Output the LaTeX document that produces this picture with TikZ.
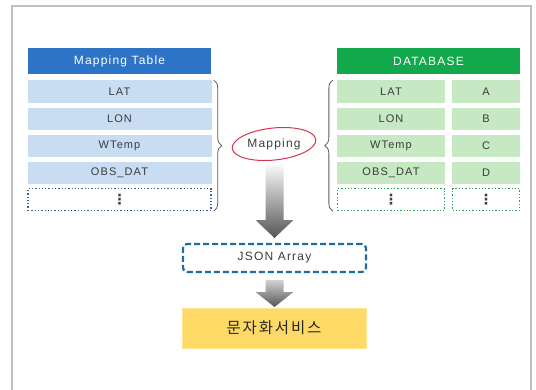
\documentclass[tikz,border=0pt]{standalone}
\usepackage{fontspec}
\setmainfont{Liberation Sans}[LetterSpace=10]
\newfontfamily\kofont{Noto Sans CJK KR}[LetterSpace=12]
\newfontfamily\symfont{DejaVu Sans}
\usetikzlibrary{decorations.pathreplacing}

\definecolor{mtblue}{HTML}{2E74C6}
\definecolor{mtrow}{HTML}{C8DCF2}
\definecolor{mtdot}{HTML}{40608E}
\definecolor{dbgreen}{HTML}{12A84C}
\definecolor{dbrow}{HTML}{C6E8C2}
\definecolor{dbdot}{HTML}{28A058}
\definecolor{txtgray}{HTML}{3C3C3C}
\definecolor{bracegray}{HTML}{5A5A5A}
\definecolor{mapred}{HTML}{D8344E}
\definecolor{jsonblue}{HTML}{1E6E9C}
\definecolor{svcyellow}{HTML}{FFD966}
\definecolor{framegray}{HTML}{C0C0C0}
\definecolor{arrowgray}{HTML}{555555}

\tikzset{
  headbox/.style={text=white, minimum height=26pt, minimum width=183pt, inner sep=0pt,
    font=\fontsize{12}{13}\selectfont},
  rowbox/.style={text=txtgray, minimum height=22.5pt, inner sep=0pt,
    font=\fontsize{11}{12}\selectfont},
  dotbox/.style={draw, dotted, line width=1.3pt, fill=white, minimum height=22pt, inner sep=0pt,
    text=black!75, font=\symfont\bfseries\fontsize{14}{15}\selectfont},
  bracepath/.style={bracegray, line width=0.8pt, decorate, decoration={brace, amplitude=8pt}},
}

\begin{document}
\begin{tikzpicture}[x=1pt,y=-1pt]
  \useasboundingbox (0,0) rectangle (536,389);
  % frame
  \draw [framegray, line width=1.2pt] (12,395) -- (12,6) -- (531,6) -- (531,395);

  % Mapping Table
  \node [headbox, fill=mtblue] (mtHead) at (119.5,61) {Mapping Table};
  \node [rowbox, fill=mtrow, minimum width=184pt] (mtLat) at (119.5,91.5) {LAT};
  \node [rowbox, fill=mtrow, minimum width=184pt] (mtLon) at (119.5,119) {LON};
  \node [rowbox, fill=mtrow, minimum width=184pt] (mtTemp) at (119.5,146) {WTemp};
  \node [rowbox, fill=mtrow, minimum width=184pt] (mtObs) at (119.5,173) {OBS\_DAT};
  \node [dotbox, draw=mtdot, minimum width=183pt] (mtMore) at (119.5,199.5) {⋮};

  % DATABASE
  \node [headbox, fill=dbgreen] (dbHead) at (428.5,61) {DATABASE};
  \node [rowbox, fill=dbrow, minimum width=108pt] (dbLat) at (391,91.5) {LAT};
  \node [rowbox, fill=dbrow, minimum width=108pt] (dbLon) at (391,119) {LON};
  \node [rowbox, fill=dbrow, minimum width=108pt] (dbTemp) at (391,146) {WTemp};
  \node [rowbox, fill=dbrow, minimum width=108pt] (dbObs) at (391,173) {OBS\_DAT};
  \node [dotbox, draw=dbdot, minimum width=107pt] (dbMore) at (391,199.5) {⋮};
  \node [rowbox, fill=dbrow, minimum width=68pt] (dbA) at (486,91.5) {A};
  \node [rowbox, fill=dbrow, minimum width=68pt] (dbB) at (486,119) {B};
  \node [rowbox, fill=dbrow, minimum width=68pt] (dbC) at (486,146) {C};
  \node [rowbox, fill=dbrow, minimum width=68pt] (dbD) at (486,173) {D};
  \node [dotbox, draw=dbdot, minimum width=67pt] (dbKeyMore) at (486,199.5) {⋮};

  % braces
  \draw [bracepath] (mtLat.north east) ++(2,0) coordinate (lbTop) -- (mtMore.south east -| lbTop);
  \draw [bracepath] (dbMore.south west) ++(-4,0) coordinate (rbBot) -- (dbLat.north west -| rbBot);

  % Mapping
  \node [font=\fontsize{12}{13}\selectfont, text=txtgray] (map) at (274,144) {Mapping};
  \draw [mapred, line width=1pt, rotate around={6:(map.center)}] (map.center) ellipse [x radius=42, y radius=16];

  % arrows
  \shade [top color=white, bottom color=arrowgray]
    (265.5,162) -- (283.5,162) -- (283.5,220) -- (293.5,220) -- (274.5,238)
    -- (255.5,220) -- (265.5,220) -- cycle;
  \node [draw=jsonblue, dashed, dash pattern=on 6pt off 3pt, line width=2.2pt, rounded corners=4pt,
    minimum width=183pt, minimum height=28pt, inner sep=0pt, text=txtgray,
    font=\fontsize{12}{13}\selectfont] (json) at (274.5,258) {JSON Array};
  \shade [top color=gray!35, bottom color=arrowgray]
    (265.5,280) -- (283.5,280) -- (283.5,292) -- (293.5,292) -- (274.5,307)
    -- (255.5,292) -- (265.5,292) -- cycle;
  \node [fill=svcyellow, draw=svcyellow!70, minimum width=184pt, minimum height=40pt, inner sep=0pt,
    font=\kofont\fontsize{15.5}{17}\selectfont, text=black!85] (svc) at (274,328) {문자화서비스};
\end{tikzpicture}
\end{document}
